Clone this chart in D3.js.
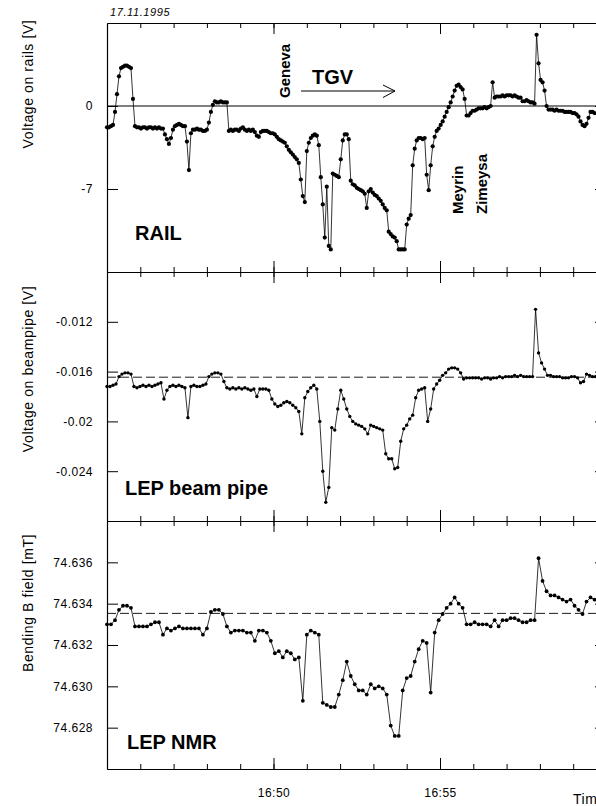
<!DOCTYPE html>
<html>
<head>
<meta charset="utf-8">
<script src="https://cdn.jsdelivr.net/npm/d3@7"></script>
<style>
body { margin: 0; background: #fff; }
text { font-family: "Liberation Sans", Arial, Helvetica, sans-serif; }
</style>
</head>
<body>
<div id="chart"></div>
<script>
// data (sampled from 16:45:00, one value per step)
var railStep = 3.6; // seconds
var railV = [
  -1.8,-1.8,-1.7,-1.6,-0.5,1.0,2.5,3.2,3.3,3.4,
  3.4,3.3,3.2,0.6,-1.7,-1.8,-1.8,-1.9,-1.8,-1.8,
  -1.9,-1.8,-1.8,-1.9,-1.8,-1.9,-1.8,-1.9,-1.9,-2.4,
  -2.8,-3.2,-2.7,-2.0,-1.7,-1.6,-1.5,-1.6,-1.7,-1.7,
  -3.0,-5.4,-2.3,-2.0,-2.0,-1.9,-2.0,-2.0,-2.1,-2.1,
  -2.0,-1.4,-0.5,0.1,0.4,0.3,0.3,0.4,0.3,0.3,
  0.3,-2.1,-2.0,-2.1,-2.0,-2.0,-2.1,-1.9,-1.8,-2.0,
  -2.1,-2.0,-2.1,-2.0,-2.2,-2.5,-2.6,-2.2,-2.1,-2.1,
  -2.1,-2.2,-2.3,-2.3,-2.4,-2.6,-2.8,-2.9,-3.0,-3.1,
  -3.4,-3.7,-3.9,-4.1,-4.3,-4.5,-4.8,-6.2,-7.6,-8.1,
  -3.8,-3.1,-2.7,-2.5,-2.4,-2.5,-3.3,-6.0,-8.3,-11.1,
  -6.8,-11.8,-12.1,-5.7,-5.8,-5.9,-6.0,-4.5,-2.9,-2.4,
  -2.4,-2.8,-6.3,-6.6,-6.7,-6.9,-7.0,-7.1,-7.2,-7.4,
  -8.6,-7.2,-7.0,-7.3,-7.5,-7.6,-7.8,-8.0,-8.3,-8.6,
  -8.8,-10.6,-10.8,-11.0,-11.1,-11.4,-12.1,-12.1,-12.1,-12.1,
  -10.0,-9.5,-9.2,-5.0,-3.6,-2.9,-2.7,-2.7,-2.8,-2.7,
  -5.8,-7.1,-5.0,-3.4,-2.6,-2.1,-1.9,-1.6,-1.3,-0.9,
  -0.5,-0.1,0.3,0.8,1.3,1.7,1.8,1.6,1.4,0.6,
  -0.8,-0.8,-0.6,-0.4,-0.4,-0.3,-0.2,-0.2,-0.2,-0.1,
  -0.2,-0.1,0.0,2.0,0.7,0.8,0.8,0.8,0.9,0.8,
  0.9,0.9,0.9,0.8,0.9,0.8,0.7,0.7,0.4,0.4,
  0.5,0.4,0.3,0.3,0.2,6.0,3.6,2.2,2.0,1.3,
  0.0,-0.3,-0.3,-0.3,-0.4,-0.3,-0.4,-0.4,-0.4,-0.5,
  -0.5,-0.5,-0.5,-0.6,-0.6,-0.7,-0.9,-1.3,-1.6,-1.7,
  -1.5,-1.0,-0.5,-0.5,-0.6
];

var pipeStep = 5.4;
var pipeV = [
  -0.0172,-0.0172,-0.0171,-0.0170,-0.0164,-0.0162,-0.0161,-0.0161,-0.0162,-0.0172,
  -0.0173,-0.0172,-0.0171,-0.0172,-0.0171,-0.0172,-0.0171,-0.0170,-0.0169,-0.0182,
  -0.0175,-0.0172,-0.0171,-0.0172,-0.0171,-0.0172,-0.0173,-0.0197,-0.0172,-0.0171,
  -0.0172,-0.0172,-0.0171,-0.0170,-0.0164,-0.0162,-0.0161,-0.0161,-0.0162,-0.0168,
  -0.0173,-0.0174,-0.0173,-0.0174,-0.0173,-0.0174,-0.0173,-0.0174,-0.0175,-0.0174,
  -0.0180,-0.0174,-0.0174,-0.0174,-0.0175,-0.0182,-0.0186,-0.0188,-0.0187,-0.0185,
  -0.0184,-0.0185,-0.0187,-0.0189,-0.0192,-0.0210,-0.0181,-0.0176,-0.0173,-0.0171,
  -0.0174,-0.0200,-0.0240,-0.0265,-0.0253,-0.0205,-0.0207,-0.0190,-0.0175,-0.0182,
  -0.0190,-0.0196,-0.0200,-0.0202,-0.0203,-0.0204,-0.0206,-0.0210,-0.0203,-0.0204,
  -0.0205,-0.0206,-0.0207,-0.0226,-0.0230,-0.0230,-0.0238,-0.0237,-0.0216,-0.0206,
  -0.0203,-0.0198,-0.0195,-0.0181,-0.0175,-0.0174,-0.0173,-0.0200,-0.0190,-0.0174,
  -0.0170,-0.0167,-0.0163,-0.0161,-0.0158,-0.0157,-0.0157,-0.0158,-0.0161,-0.0166,
  -0.0165,-0.0165,-0.0165,-0.0165,-0.0165,-0.0166,-0.0165,-0.0165,-0.0166,-0.0165,
  -0.0165,-0.0164,-0.0165,-0.0164,-0.0164,-0.0164,-0.0163,-0.0164,-0.0163,-0.0164,
  -0.0164,-0.0164,-0.0164,-0.0110,-0.0145,-0.0153,-0.0158,-0.0163,-0.0163,-0.0164,
  -0.0164,-0.0164,-0.0165,-0.0165,-0.0165,-0.0164,-0.0164,-0.0165,-0.0169,-0.0168,
  -0.0162,-0.0163,-0.0164,-0.0164
];
var pipeRef = -0.01645;

var nmrStep = 7.2;
var nmrV = [
  74.6330,74.6330,74.6332,74.6337,74.6339,74.6339,74.6338,74.6329,74.6329,74.6329,
  74.6329,74.6330,74.6331,74.6331,74.6325,74.6328,74.6327,74.6328,74.6329,74.6328,
  74.6328,74.6328,74.6328,74.6328,74.6325,74.6328,74.6336,74.6337,74.6337,74.6335,
  74.6329,74.6326,74.6327,74.6327,74.6327,74.6326,74.6326,74.6322,74.6327,74.6327,
  74.6326,74.6322,74.6316,74.6317,74.6314,74.6317,74.6316,74.6313,74.6314,74.6293,
  74.6325,74.6327,74.6326,74.6325,74.6292,74.6291,74.6290,74.6290,74.6296,74.6303,
  74.6312,74.6305,74.6301,74.6298,74.6298,74.6296,74.6301,74.6299,74.6300,74.6299,
  74.6296,74.6281,74.6276,74.6276,74.6298,74.6304,74.6305,74.6312,74.6318,74.6322,
  74.6321,74.6297,74.6326,74.6332,74.6335,74.6338,74.6340,74.6343,74.6340,74.6338,
  74.6330,74.6330,74.6331,74.6330,74.6330,74.6330,74.6329,74.6332,74.6329,74.6332,
  74.6332,74.6333,74.6333,74.6332,74.6331,74.6331,74.6332,74.6332,74.6362,74.6351,
  74.6346,74.6344,74.6344,74.6343,74.6342,74.6341,74.6342,74.6339,74.6337,74.6335,
  74.6341,74.6343,74.6342
];
var nmrRef = 74.63353;

var railTicks = [0, -7];
var pipeTicks = [-0.012, -0.016, -0.02, -0.024];
var nmrTicks = [74.636, 74.634, 74.632, 74.630, 74.628];
var timeLabels = ["16:50", "16:55"];

var width = 596, height = 806;
var left = 107, right = 606.5;

var svg = d3.select("#chart").append("svg")
  .attr("width", width)
  .attr("height", height);

var t0 = new Date(1995, 10, 17, 16, 45, 0);
var t1 = new Date(1995, 10, 17, 17, 0, 0);
var x = d3.scaleTime().domain([t0, t1]).range([left, right]);

var parseHM = d3.timeParse("%H:%M");
var majorTimes = timeLabels.map(function(s) {
  var p = parseHM(s);
  return new Date(1995, 10, 17, p.getHours(), p.getMinutes(), 0);
});
var minorTimes = d3.timeMinute.range(new Date(t0.getTime() + 60000), t1);

var panels = [
  { top: 23, bottom: 272, domain: [-14, 7], ticks: railTicks, vals: railV, step: railStep, r: 2.1,
    fmt: function(d) { return String(d); }, title: "Voltage on rails [V]", titleY: 84,
    label: "RAIL", labelX: 135, labelY: 240 },
  { top: 272, bottom: 521, domain: [-0.028, -0.008], ticks: pipeTicks, vals: pipeV, step: pipeStep, r: 1.7,
    ref: pipeRef, fmt: function(d) { return String(d); }, title: "Voltage on beampipe [V]", titleY: 369,
    label: "LEP beam pipe", labelX: 125, labelY: 495 },
  { top: 521, bottom: 769, domain: [74.626, 74.638], ticks: nmrTicks, vals: nmrV, step: nmrStep, r: 1.9,
    ref: nmrRef, fmt: function(d) { return d.toFixed(3); }, title: "Bending B field [mT]", titleY: 603,
    label: "LEP NMR", labelX: 127, labelY: 749 }
];

function styleAxis(g) {
  g.selectAll("path").attr("stroke", "#000").attr("stroke-width", 1.2);
  g.selectAll("line").attr("stroke", "#000").attr("stroke-width", 1);
  g.selectAll("text")
    .attr("fill", "#000")
    .style("font-size", "12px")
    .style("letter-spacing", "0.5px");
}

panels.forEach(function(p, k) {
  var y = d3.scaleLinear().domain(p.domain).range([p.bottom, p.top]);

  // reference lines
  if (k === 0) {
    svg.append("line")
      .attr("x1", left).attr("x2", right)
      .attr("y1", y(0)).attr("y2", y(0))
      .attr("stroke", "#000").attr("stroke-width", 1.2);
  } else {
    svg.append("line")
      .attr("x1", left).attr("x2", right)
      .attr("y1", y(p.ref)).attr("y2", y(p.ref))
      .attr("stroke", "#000").attr("stroke-width", 0.9)
      .attr("stroke-dasharray", "9,4");
  }

  // left axis
  svg.append("g")
    .attr("transform", "translate(" + left + ",0)")
    .call(d3.axisLeft(y).tickValues(p.ticks).tickSize(-11).tickSizeOuter(0)
      .tickPadding(14).tickFormat(p.fmt))
    .call(styleAxis);

  // right axis (mostly outside the picture)
  svg.append("g")
    .attr("transform", "translate(" + right + ",0)")
    .call(d3.axisRight(y).tickValues(p.ticks).tickSize(-11.5).tickSizeOuter(0).tickFormat(""))
    .call(styleAxis);

  // top time axis
  svg.append("g")
    .attr("transform", "translate(0," + p.top + ")")
    .call(d3.axisTop(x).tickValues(minorTimes).tickSize(-5).tickSizeOuter(0).tickFormat(""))
    .call(styleAxis);
  svg.append("g")
    .attr("transform", "translate(0," + p.top + ")")
    .call(d3.axisTop(x).tickValues(majorTimes).tickSize(-11).tickSizeOuter(0).tickFormat(""))
    .call(styleAxis);

  // bottom time axis
  svg.append("g")
    .attr("transform", "translate(0," + p.bottom + ")")
    .call(d3.axisBottom(x).tickValues(minorTimes).tickSize(-5).tickSizeOuter(0).tickFormat(""))
    .call(styleAxis);
  svg.append("g")
    .attr("transform", "translate(0," + p.bottom + ")")
    .call(d3.axisBottom(x).tickValues(majorTimes).tickSize(-11).tickSizeOuter(0)
      .tickPadding(19).tickFormat(k === 2 ? d3.timeFormat("%H:%M") : ""))
    .call(styleAxis);

  // series
  var pts = p.vals.map(function(v, i) {
    return { t: new Date(t0.getTime() + i * p.step * 1000), v: v };
  });
  var line = d3.line()
    .x(function(d) { return x(d.t); })
    .y(function(d) { return y(d.v); });
  var g = svg.append("g");
  g.append("path")
    .datum(pts)
    .attr("d", line)
    .attr("fill", "none")
    .attr("stroke", "#000")
    .attr("stroke-width", 0.8);
  g.selectAll("circle")
    .data(pts)
    .join("circle")
    .attr("cx", function(d) { return x(d.t); })
    .attr("cy", function(d) { return y(d.v); })
    .attr("r", p.r)
    .attr("fill", "#000");

  // y title
  svg.append("text")
    .attr("transform", "translate(33," + p.titleY + ") rotate(-90)")
    .attr("text-anchor", "middle")
    .style("font-size", "14px")
    .style("letter-spacing", "0.6px")
    .text(p.title);

  // panel label
  svg.append("text")
    .attr("x", p.labelX)
    .attr("y", p.labelY)
    .style("font-size", "20px")
    .style("font-weight", "bold")
    .text(p.label);
});

// annotations
svg.append("text")
  .attr("x", 110).attr("y", 16)
  .style("font-size", "11px")
  .style("font-style", "italic")
  .style("letter-spacing", "0.6px")
  .text("17.11.1995");

function vlabel(txt, bx, by) {
  svg.append("text")
    .attr("transform", "translate(" + bx + "," + by + ") rotate(-90)")
    .style("font-size", "15px")
    .style("font-weight", "bold")
    .text(txt);
}
vlabel("Geneva", 290, 98);
vlabel("Meyrin", 463, 214);
vlabel("Zimeysa", 487, 214);

svg.append("text")
  .attr("x", 312).attr("y", 84)
  .style("font-size", "20px")
  .style("font-weight", "bold")
  .text("TGV");

var arrow = d3.path();
arrow.moveTo(301, 91); arrow.lineTo(395, 91);
arrow.moveTo(383, 85); arrow.lineTo(395, 91); arrow.lineTo(383, 97.5);
svg.append("path")
  .attr("d", arrow.toString())
  .attr("fill", "none")
  .attr("stroke", "#000")
  .attr("stroke-width", 1);

// axis title, cut by the right edge as in the original
svg.append("text")
  .attr("x", 573).attr("y", 804)
  .style("font-size", "14px")
  .style("letter-spacing", "0.5px")
  .text("Time");
</script>
</body>
</html>
